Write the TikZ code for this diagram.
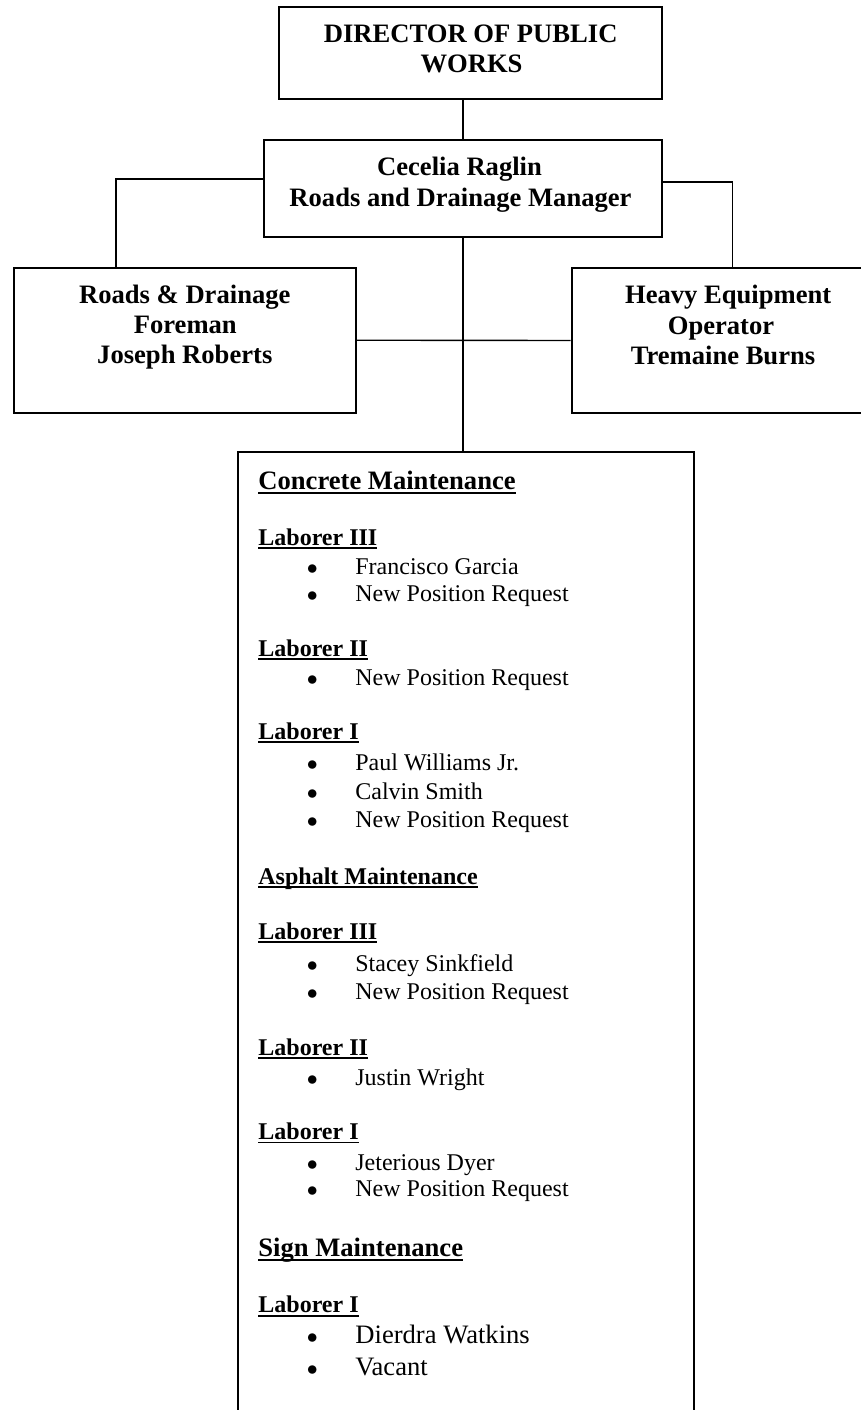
\documentclass[tikz,border=0pt]{standalone}
\usepackage{fontspec}
\setmainfont{Liberation Serif}
\usetikzlibrary{calc}

\newsavebox\ulbox
\newcommand\ulined[1]{\sbox\ulbox{#1}\rlap{\rule[-0.17em]{\wd\ulbox}{0.075em}}\usebox\ulbox}
\newcommand\bulleted[1]{\llap{\makebox[0pt]{\fontsize{11}{11}\selectfont$\bullet$}\hspace{21.5pt}}#1}

\tikzset{
  box/.style={draw, line width=1pt, inner sep=0pt},
  link/.style={line width=0.7pt},
  boxtext/.style={anchor=base, inner sep=0pt, font=\fontsize{13.3}{15.3}\selectfont\bfseries},
  bighead/.style={anchor=base west, inner sep=0pt, font=\fontsize{13.3}{15.3}\selectfont\bfseries},
  head/.style={anchor=base west, inner sep=0pt, font=\fontsize{12}{14}\selectfont\bfseries},
  entry/.style={anchor=base west, inner sep=0pt, font=\fontsize{12}{14}\selectfont},
  bigentry/.style={anchor=base west, inner sep=0pt, font=\fontsize{13.3}{15.3}\selectfont},
}

\begin{document}
\begin{tikzpicture}[x=0.5pt,y=-0.5pt]
\clip[use as bounding box] (0,0) rectangle (861,1410);

\node[box, minimum width=191.2pt, minimum height=45.9pt] (dir) at (470.5,53.2) {};
\node[box, minimum width=198.9pt, minimum height=48.7pt] (mgr) at (462.9,188.7) {};
\node[box, minimum width=171.1pt, minimum height=72.5pt] (foreman) at (184.8,340.2) {};
\node[box, minimum width=154.2pt, minimum height=72.2pt] (heop) at (725.9,340.5) {};
\node[box, minimum width=228.2pt, minimum height=489pt] (crew) at (465.9,941) {};

\node[boxtext] (dir1) at (470.7,42.3) {DIRECTOR OF PUBLIC};
\node[boxtext] (dir2) at (471.5,72.7) {WORKS};
\node[boxtext] (mgr1) at (459.5,175) {Cecelia Raglin};
\node[boxtext] (mgr2) at (460.5,206.7) {Roads and Drainage Manager};
\node[boxtext] (fm1) at (184.8,303.3) {Roads \& Drainage};
\node[boxtext] (fm2) at (185.3,333.3) {Foreman};
\node[boxtext] (fm3) at (184.8,363) {Joseph Roberts};
\node[boxtext] (he1) at (728.2,303.3) {Heavy Equipment};
\node[boxtext] (he2) at (721,334) {Operator};
\node[boxtext] (he3) at (723,364.3) {Tremaine Burns};

\draw[link] (mgr.north |- dir.south) -- (mgr.north);
\draw[link] ($(mgr.west)+(0,-9.7)$) -| ($(foreman.north west)+(103.3,0)$);
\draw[link] ($(mgr.east)+(0,-6.7)$) -| ($(heop.north west)+(161.8,0)$);
\draw[line width=1.3pt] ($(heop.north west)+(161.8,0.7)$) -- ++(94,0);
\draw[link] (mgr.south) -- (mgr.south |- crew.north);
\draw[link] (foreman.east) -- (heop.west);

% crew list
\node[bighead] (concrete) at (258,489) {\ulined{Concrete Maintenance}};
\node[head] (c3) at (258,545) {\ulined{Laborer III}};
\node[entry] (c3a) at (355,574) {\bulleted{Francisco Garcia}};
\node[entry] (c3b) at (355,601.7) {\bulleted{New Position Request}};
\node[head] (c2) at (258,656) {\ulined{Laborer II}};
\node[entry] (c2a) at (355,685) {\bulleted{New Position Request}};
\node[head] (c1) at (258,739) {\ulined{Laborer I}};
\node[entry] (c1a) at (355,770) {\bulleted{Paul Williams Jr.}};
\node[entry] (c1b) at (355,799) {\bulleted{Calvin Smith}};
\node[entry] (c1c) at (355,827.7) {\bulleted{New Position Request}};
\node[head] (asphalt) at (258,884) {\ulined{Asphalt Maintenance}};
\node[head] (a3) at (258,939) {\ulined{Laborer III}};
\node[entry] (a3a) at (355,971) {\bulleted{Stacey Sinkfield}};
\node[entry] (a3b) at (355,999.3) {\bulleted{New Position Request}};
\node[head] (a2) at (258,1055) {\ulined{Laborer II}};
\node[entry] (a2a) at (355,1085) {\bulleted{Justin Wright}};
\node[head] (a1) at (258,1139.3) {\ulined{Laborer I}};
\node[entry] (a1a) at (355,1170) {\bulleted{Jeterious Dyer}};
\node[entry] (a1b) at (355,1196.7) {\bulleted{New Position Request}};
\node[bighead] (sign) at (258,1256.7) {\ulined{Sign Maintenance}};
\node[head] (s1) at (258,1312.7) {\ulined{Laborer I}};
\node[bigentry] (s1a) at (355,1343.3) {\bulleted{Dierdra Watkins}};
\node[bigentry] (s1b) at (355,1375) {\bulleted{Vacant}};
\end{tikzpicture}
\end{document}
